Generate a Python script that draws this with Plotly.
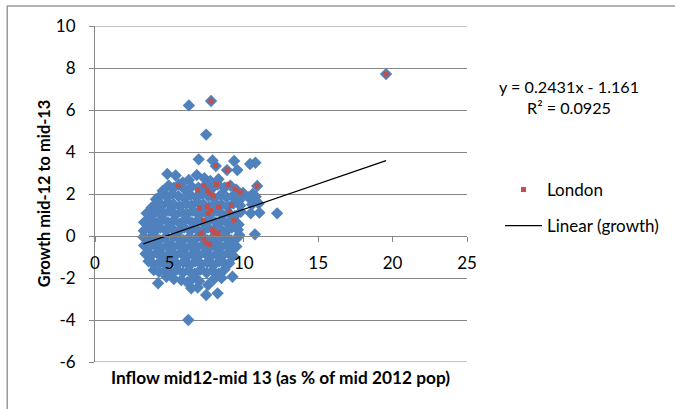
import plotly.graph_objects as go

# All local authorities: inflow (% of mid-2012 pop) vs growth mid-12 to mid-13
inflow = [
    4.86, 5.42, 6.31, 6.84, 5.90, 7.35, 7.75, 8.30, 8.87, 9.57, 6.97, 7.90, 8.12, 9.35, 10.42, 10.78,
    4.55, 4.95, 5.30, 5.65, 6.05, 6.50, 6.95, 7.40, 7.85, 8.25, 8.70, 9.10, 9.50, 9.95, 10.90, 10.60,
    4.10, 4.45, 4.85, 5.20, 5.60, 6.00, 6.40, 6.80, 7.20, 7.60, 8.00, 8.45, 8.85, 9.25, 9.70, 10.30, 10.80,
    3.80, 4.10, 4.50, 4.90, 5.30, 5.70, 6.10, 6.50, 6.90, 7.30, 7.70, 8.10, 8.50, 8.90, 9.30, 9.75, 10.55, 11.00,
    3.47, 3.80, 4.20, 4.60, 5.00, 5.40, 5.80, 6.20, 6.60, 7.00, 7.40, 7.80, 8.20, 8.60, 9.00, 9.40, 9.80, 10.47, 11.05, 12.24,
    3.30, 3.70, 4.10, 4.50, 4.90, 5.30, 5.70, 6.10, 6.50, 6.90, 7.30, 7.70, 8.10, 8.50, 8.90, 9.30, 9.65,
    3.28, 3.65, 4.00, 4.40, 4.80, 5.20, 5.60, 6.00, 6.40, 6.80, 7.20, 7.60, 8.00, 8.40, 8.80, 9.20, 9.60, 10.75, 9.69,
    3.25, 3.60, 3.95, 4.35, 4.75, 5.15, 5.55, 5.95, 6.35, 6.75, 7.15, 7.55, 7.95, 8.35, 8.75, 9.15, 9.55,
    3.30, 3.65, 4.05, 4.45, 4.85, 5.25, 5.65, 6.05, 6.45, 6.85, 7.25, 7.65, 8.05, 8.45, 8.85, 9.25, 9.50,
    3.40, 3.75, 4.15, 4.55, 4.95, 5.35, 5.75, 6.15, 6.55, 6.95, 7.35, 7.75, 8.15, 8.55, 8.95, 9.30,
    3.60, 3.95, 4.35, 4.75, 5.15, 5.55, 5.95, 6.35, 6.75, 7.15, 7.55, 7.95, 8.35, 8.75, 9.02,
    3.95, 4.30, 4.70, 5.10, 5.50, 5.90, 6.30, 6.70, 7.10, 7.50, 7.90, 8.30, 8.70,
    4.24, 4.80, 5.30, 5.80, 6.20, 6.60, 7.00, 7.60, 8.00, 9.24, 8.50,
    6.47, 7.47, 8.24, 6.90,
    6.31, 7.80, 7.47, 19.56, 6.27,
]
growth = [
    2.95, 2.88, 2.67, 2.90, 2.55, 2.75, 2.62, 2.70, 3.14, 3.14, 3.65, 3.60, 3.33, 3.57, 3.43, 3.49,
    2.15, 2.40, 2.30, 2.45, 2.20, 2.35, 2.30, 2.40, 2.25, 2.45, 2.30, 2.40, 2.20, 2.05, 2.38, 2.00,
    1.75, 1.95, 1.85, 2.00, 1.90, 1.80, 1.95, 1.85, 2.00, 1.90, 1.80, 1.95, 1.85, 1.90, 1.70, 1.85, 1.87,
    1.35, 1.55, 1.45, 1.60, 1.50, 1.40, 1.55, 1.45, 1.60, 1.50, 1.40, 1.55, 1.50, 1.40, 1.55, 1.45, 1.50, 1.55,
    1.08, 0.95, 1.15, 1.05, 1.20, 1.00, 1.15, 1.05, 1.20, 1.00, 1.15, 1.05, 1.20, 1.00, 1.10, 0.95, 1.15, 1.08, 1.11, 1.08,
    0.65, 0.75, 0.60, 0.80, 0.65, 0.75, 0.60, 0.80, 0.65, 0.75, 0.60, 0.80, 0.65, 0.75, 0.60, 0.80, 0.55,
    0.25, 0.35, 0.20, 0.40, 0.25, 0.35, 0.20, 0.40, 0.25, 0.35, 0.20, 0.40, 0.25, 0.35, 0.20, 0.40, 0.30, 0.08, 0.05,
    -0.05, -0.15, 0.00, -0.20, -0.05, -0.15, 0.00, -0.20, -0.05, -0.15, 0.00, -0.20, -0.05, -0.15, 0.00, -0.20, -0.10,
    -0.45, -0.55, -0.40, -0.60, -0.45, -0.55, -0.40, -0.60, -0.45, -0.55, -0.40, -0.60, -0.45, -0.55, -0.40, -0.60, -0.50,
    -0.85, -0.95, -0.80, -1.00, -0.85, -0.95, -0.80, -1.00, -0.85, -0.95, -0.80, -1.00, -0.85, -0.95, -0.80, -0.95,
    -1.20, -1.35, -1.25, -1.40, -1.20, -1.35, -1.25, -1.40, -1.20, -1.35, -1.25, -1.40, -1.20, -1.35, -1.30,
    -1.62, -1.70, -1.65, -1.80, -1.60, -1.75, -1.65, -1.80, -1.60, -1.75, -1.65, -1.80, -1.60,
    -2.25, -1.94, -2.05, -2.10, -2.20, -2.00, -2.15, -2.33, -2.05, -1.94, -2.00,
    -2.49, -2.81, -2.73, -2.45,
    6.22, 6.43, 4.83, 7.71, -4.00,
]

# London boroughs
london_inflow = [8.10, 8.89, 5.60, 7.31, 8.17, 8.95, 6.90, 7.57, 7.73, 7.95, 9.42, 9.75, 10.89,
                 7.02, 7.55, 7.77, 7.62, 8.31, 9.17, 9.02, 9.33, 7.29, 7.17, 7.89, 8.02, 8.27,
                 7.02, 7.31, 7.44, 7.71, 19.56, 7.80]
london_growth = [3.35, 3.13, 2.40, 2.40, 2.46, 2.46, 2.19, 2.16, 2.03, 1.90, 2.24, 2.08, 2.38,
                 1.32, 1.40, 1.22, 1.08, 1.38, 1.46, 1.17, 0.75, 0.75, 0.14, 0.30, 0.17, 0.14,
                 0.03, -0.11, -0.33, -0.40, 7.71, 6.43]

# Linear trend (from the chart's equation)
slope = 0.2431
intercept = -1.161
r_squared = 0.0925

x_ticks = [0, 5, 10, 15, 20, 25]
y_ticks = [-6, -4, -2, 0, 2, 4, 6, 8, 10]
x_tick_labels = ["0", "5", "10", "15", "20", "25"]
y_tick_labels = ["-6", "-4", "-2", "0", "2", "4", "6", "8", "10"]

W, H = 675, 409
ML, MR, MT, MB = 95, 207, 26, 47
PW, PH = W - ML - MR, H - MT - MB


def px(x):
    return (x - ML) / PW


def py(y):
    return (H - MB - y) / PH


FONT = "Lato, 'Liberation Sans', sans-serif"
GRID = "#868686"

fig = go.Figure()
fig.add_trace(go.Scatter(
    x=inflow, y=growth, mode="markers", name="growth", showlegend=False,
    marker=dict(symbol="diamond", size=9.5, color="#4F81BD", line=dict(width=0)),
))
fig.add_trace(go.Scatter(
    x=london_inflow, y=london_growth, mode="markers", name="London",
    legendgroup="a",
    marker=dict(symbol="square", size=5, color="#C0504D", line=dict(width=0)),
))
x0, x1 = min(inflow), max(inflow)
fig.add_trace(go.Scatter(
    x=[x0, x1], y=[slope * x0 + intercept, slope * x1 + intercept],
    mode="lines", name="Linear (growth)", legendgroup="b",
    line=dict(color="black", width=1.3),
))

fig.update_layout(
    width=W, height=H,
    margin=dict(l=ML, r=MR, t=MT, b=MB),
    paper_bgcolor="white", plot_bgcolor="white",
    font=dict(family=FONT, size=17, color="black"),
    showlegend=True,
    legend=dict(x=px(500), y=py(172), xanchor="left", yanchor="top",
                traceorder="grouped", tracegroupgap=11, itemwidth=37,
                font=dict(size=17), bgcolor="rgba(0,0,0,0)"),
    xaxis=dict(range=[0, 25], tickvals=x_ticks, ticktext=x_tick_labels, anchor="free",
               position=6 / 16, showline=True, linecolor=GRID, linewidth=1,
               ticks="outside", ticklen=5, tickcolor=GRID, showgrid=False,
               zeroline=False, tickfont=dict(size=17), ticklabelstandoff=7),
    yaxis=dict(range=[-6, 10], tickvals=y_ticks, ticktext=y_tick_labels, showline=True,
               linecolor=GRID, linewidth=1, ticks="outside", ticklen=5, tickcolor=GRID,
               showgrid=True, gridcolor=GRID, gridwidth=1, zeroline=False,
               tickfont=dict(size=17), ticklabelstandoff=10),
    annotations=[
        dict(text="<b>Inflow mid12-mid 13 (as % of mid 2012 pop)</b>", x=px(281), y=py(377),
             xref="paper", yref="paper", xanchor="center", yanchor="middle",
             showarrow=False, font=dict(size=17.3)),
        dict(text="<b>Growth mid-12 to mid-13</b>", x=px(43), y=py(194),
             xref="paper", yref="paper", xanchor="center", yanchor="middle",
             showarrow=False, textangle=-90, font=dict(size=16.4)),
        dict(text=f"y = {slope}x - {abs(intercept)}", x=px(570), y=py(86),
             xref="paper", yref="paper", xanchor="center", yanchor="middle",
             showarrow=False, font=dict(size=16.2)),
        dict(text=f"R² = {r_squared}", x=px(570), y=py(107),
             xref="paper", yref="paper", xanchor="center", yanchor="middle",
             showarrow=False, font=dict(size=16.2)),
    ],
    shapes=[
        dict(type="rect", xref="paper", yref="paper",
             x0=px(7), x1=px(690), y0=py(430), y1=py(6),
             line=dict(color="#9a9a9a", width=1.5), fillcolor="rgba(0,0,0,0)",
             layer="below"),
        dict(type="line", xref="paper", yref="y", x0=0, x1=1,
             y0=y_ticks[0], y1=y_ticks[0], line=dict(color=GRID, width=1), layer="below"),
        dict(type="line", xref="paper", yref="y", x0=0, x1=1,
             y0=y_ticks[-1], y1=y_ticks[-1], line=dict(color=GRID, width=1), layer="below"),
    ],
)

fig.write_html("out.html")
